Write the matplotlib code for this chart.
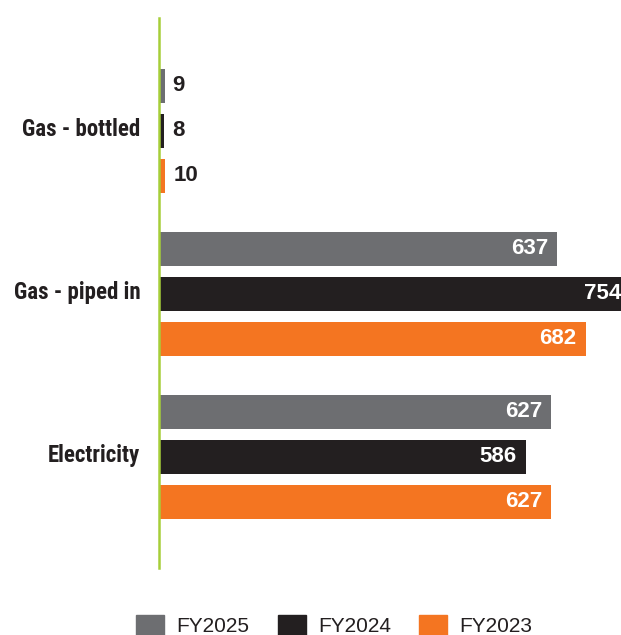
import matplotlib
matplotlib.use("Agg")
import matplotlib.pyplot as plt
from matplotlib.patches import Rectangle
import numpy as np

categories = ["Gas - bottled", "Gas - piped in", "Electricity"]
series_names = ["FY2025", "FY2024", "FY2023"]
fy2025 = [9, 637, 627]
fy2024 = [8, 754, 586]
fy2023 = [10, 682, 627]
series_values = [fy2025, fy2024, fy2023]
colors = ["#6d6e71", "#231f20", "#f47521"]
axis_color = "#a6ce39"

W, H = 621, 635
fig = plt.figure(figsize=(W / 100, H / 100), dpi=100)
ax = fig.add_axes([159 / W, (H - 568) / H, 462 / W, 550 / H])

offsets = [-0.276, 0.0, 0.276]
bar_h = 0.209
ypos = np.arange(len(categories))
for vals, off, col in zip(series_values, offsets, colors):
    bars = ax.barh(ypos + off, vals, height=bar_h, color=col, clip_on=False)
    for b, v in zip(bars, vals):
        yc = b.get_y() + b.get_height() / 2
        if v > 100:
            ax.annotate(str(v), xy=(v, yc), xytext=(-6.5, 0), textcoords="offset points",
                        ha="right", va="center", color="white", fontsize=16,
                        fontweight="bold", family="Liberation Sans", annotation_clip=False)
        else:
            ax.annotate(str(v), xy=(v, yc), xytext=(5.8, 0), textcoords="offset points",
                        ha="left", va="center", color="#231f20", fontsize=16,
                        fontweight="bold", family="Liberation Sans", annotation_clip=False)

ax.set_xlim(0, 462 / 0.6255)
ax.set_ylim(2.681, -0.693)
ax.set_yticks(ypos)
ax.set_yticklabels([""] * len(categories))
for y, cat in zip(ypos, categories):
    ax.annotate(cat, xy=(0, y), xycoords=("axes fraction", "data"),
                xytext=(-13.5, 3), textcoords="offset points",
                ha="right", va="center_baseline", fontsize=16.5, fontweight="bold",
                family=["Roboto Condensed", "DejaVu Sans"], color="#231f20",
                annotation_clip=False)
ax.tick_params(axis="y", length=0)
ax.set_xticks([])
for s in ["top", "right", "bottom"]:
    ax.spines[s].set_visible(False)
ax.spines["left"].set_color(axis_color)
ax.spines["left"].set_linewidth(1.8)
ax.set_zorder(1)

# legend
leg_x = [136, 278, 419]
for x0, name, col in zip(leg_x, series_names, colors):
    fig.patches.append(Rectangle((x0 / W, 0), 28 / W, (H - 615) / H, transform=fig.transFigure,
                                 color=col))
    fig.text((x0 + 40) / W, (H - 632) / H, name, fontsize=15, color="#231f20",
             family="Liberation Sans", ha="left", va="baseline")

fig.savefig("out.png", dpi=100)
